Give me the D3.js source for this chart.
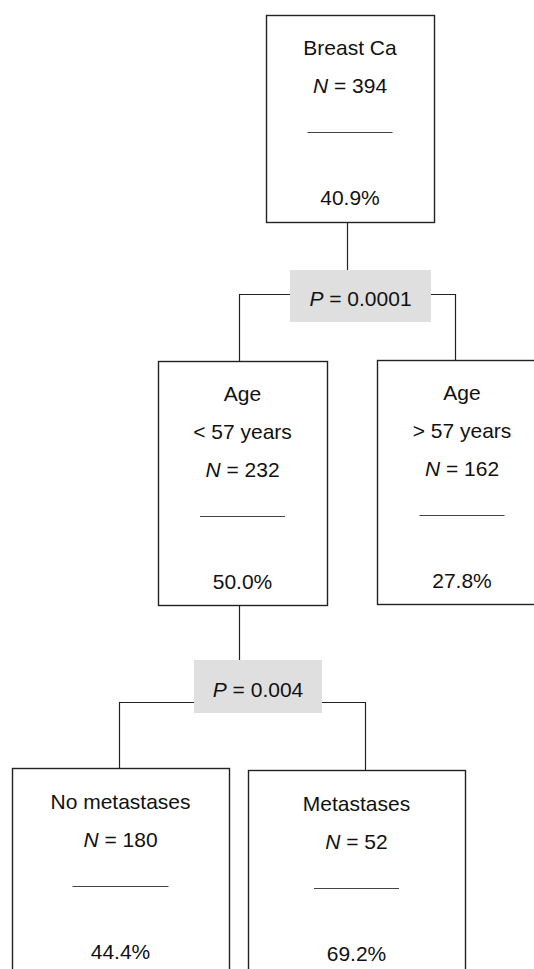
<!DOCTYPE html>
<html>
<head>
<meta charset="utf-8">
<script src="https://cdn.jsdelivr.net/npm/d3@7/dist/d3.min.js"></script>
<style>
  html, body { margin: 0; padding: 0; background: #fff; }
  svg { display: block; }
</style>
</head>
<body>
<script>
// ---- data ----
const nodeIds     = ["root", "ageLt", "ageGt", "noMet", "met"];
const nodeParents = [null, "root", "root", "ageLt", "ageLt"];
const nodeLabels  = [["Breast Ca"], ["Age", "< 57 years"], ["Age", "> 57 years"], ["No metastases"], ["Metastases"]];
const nodeN       = [394, 232, 162, 180, 52];
const nodePct     = [40.9, 50.0, 27.8, 44.4, 69.2];
const splitNodes  = ["root", "ageLt"];
const splitP      = ["0.0001", "0.004"];

// ---- layout (geometry only) ----
const W = 534, H = 969;
const boxLayout = {
  root:  {x: 266, y: 15,  w: 168, h: 207, lineTop: 40, rule: 85},
  ageLt: {x: 158, y: 361, w: 169, h: 244, lineTop: 40, rule: 85},
  ageGt: {x: 377, y: 360, w: 170, h: 244, lineTop: 40, rule: 85},
  noMet: {x: 12,  y: 768, w: 217, h: 244, lineTop: 41, rule: 96},
  met:   {x: 248, y: 770, w: 217, h: 244, lineTop: 41, rule: 85}
};
const splitLayout = {
  root:  {stemX: 347, pBox: {x: 290, y: 270, w: 141, h: 52}, barY: 294, leftX: 239, rightX: 455},
  ageLt: {stemX: 239, pBox: {x: 194, y: 660, w: 128, h: 53}, barY: 702, leftX: 119, rightX: 365}
};
const lineStep = 38, ruleGap = 39, pctGap = 73;
const font = "'Liberation Sans', Arial, Helvetica, sans-serif";
const fs = 21;
const ink = "#111";
const stroke = "#222";
const h = v => Math.round(v) + 0.5; // crisp 1px lines

const nodes = nodeIds.map((id, i) => ({
  id, parent: nodeParents[i], labels: nodeLabels[i], n: nodeN[i], pct: nodePct[i]
}));
const root = d3.stratify().id(d => d.id).parentId(d => d.parent)(nodes);
const byId = new Map(root.descendants().map(d => [d.data.id, d]));

const svg = d3.select("body").append("svg")
  .attr("width", W).attr("height", H)
  .attr("viewBox", `0 0 ${W} ${H}`);

// ---- connectors ----
const conn = svg.append("g").attr("fill", "none").attr("stroke", stroke).attr("stroke-width", 1.2);
splitNodes.forEach((id, i) => {
  const s = splitLayout[id];
  const parentBox = boxLayout[id];
  const kids = byId.get(id).children;
  const lb = boxLayout[kids[0].data.id], rb = boxLayout[kids[1].data.id];
  conn.append("path").attr("d", d3.line()([[h(s.stemX), parentBox.y + parentBox.h], [h(s.stemX), s.pBox.y]]));
  conn.append("path").attr("d", d3.line()([[s.pBox.x, h(s.barY)], [h(s.leftX), h(s.barY)], [h(s.leftX), lb.y]]));
  conn.append("path").attr("d", d3.line()([[s.pBox.x + s.pBox.w, h(s.barY)], [h(s.rightX), h(s.barY)], [h(s.rightX), rb.y]]));
});

// ---- P boxes ----
const pg = svg.append("g").selectAll("g").data(splitNodes.map((id, i) => ({id, p: splitP[i]})))
  .join("g");
pg.append("rect")
  .attr("x", d => splitLayout[d.id].pBox.x).attr("y", d => splitLayout[d.id].pBox.y)
  .attr("width", d => splitLayout[d.id].pBox.w).attr("height", d => splitLayout[d.id].pBox.h)
  .attr("fill", "#dfdfdf");
const pt = pg.append("text")
  .attr("x", d => splitLayout[d.id].pBox.x + splitLayout[d.id].pBox.w / 2)
  .attr("y", d => splitLayout[d.id].pBox.y + splitLayout[d.id].pBox.h / 2 + 10)
  .attr("text-anchor", "middle")
  .attr("font-family", font).attr("font-size", fs).attr("fill", ink);
pt.append("tspan").attr("font-style", "italic").text("P");
pt.append("tspan").text(d => " = " + d.p);

// ---- node boxes ----
const fmtPct = d3.format(".1f");
const ng = svg.append("g").selectAll("g").data(root.descendants()).join("g");
ng.append("rect")
  .attr("x", d => boxLayout[d.data.id].x + 0.5).attr("y", d => boxLayout[d.data.id].y + 0.5)
  .attr("width", d => boxLayout[d.data.id].w).attr("height", d => boxLayout[d.data.id].h)
  .attr("fill", "#fff").attr("stroke", stroke).attr("stroke-width", 1.4);

ng.each(function(d) {
  const b = boxLayout[d.data.id];
  const g = d3.select(this);
  const cx = b.x + b.w / 2;
  let y = b.y + b.lineTop;
  const t = g.append("g").attr("font-family", font).attr("font-size", fs)
    .attr("fill", ink).attr("text-anchor", "middle");
  d.data.labels.forEach(l => {
    t.append("text").attr("x", cx).attr("y", y).text(l);
    y += lineStep;
  });
  const nt = t.append("text").attr("x", cx).attr("y", y);
  nt.append("tspan").attr("font-style", "italic").text("N");
  nt.append("tspan").text(" = " + d.data.n);
  const ry = h(y + ruleGap);
  g.append("line")
    .attr("x1", cx - b.rule / 2).attr("x2", cx + b.rule / 2)
    .attr("y1", ry).attr("y2", ry)
    .attr("stroke", "#444").attr("stroke-width", 1);
  t.append("text").attr("x", cx).attr("y", y + ruleGap + pctGap).text(fmtPct(d.data.pct) + "%");
});
</script>
</body>
</html>
